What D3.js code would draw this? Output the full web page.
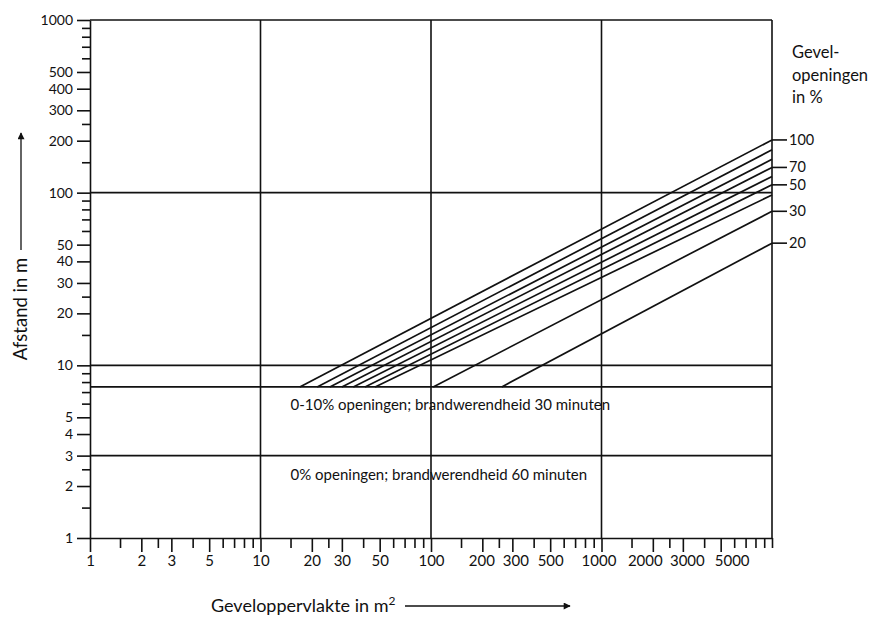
<!DOCTYPE html>
<html>
<head>
<meta charset="utf-8">
<script src="https://cdn.jsdelivr.net/npm/d3@7"></script>
<style>
  body { margin: 0; background: #fff; }
  text { font-family: Lato, "Open Sans", sans-serif; fill: #111; }
  .axis path, .axis line { stroke: #111; stroke-width: 1.6; }
  .axis text { font-size: 15px; }
  .yaxis text { font-size: 14px; }
</style>
</head>
<body>
<div id="chart"></div>
<script>
// chart data
const yMajor = [1, 2, 3, 4, 5, 10, 20, 30, 40, 50, 100, 200, 300, 400, 500, 1000];
const yMinor = [1.5, 2.5, 6, 7, 8, 9, 15, 25, 60, 70, 80, 90, 150, 250, 600, 700, 800, 900];
const xMajor = [1, 2, 3, 5, 10, 20, 30, 50, 100, 200, 300, 500, 1000, 2000, 3000, 5000];
const xMinor = [1.5, 2.5, 4, 6, 7, 8, 9, 15, 25, 40, 60, 70, 80, 90, 150, 250, 400, 600, 700, 800, 900,
  1500, 2500, 4000, 6000, 7000, 8000, 9000];
const xGrid = [10, 100, 1000];
const yGrid = [3, 7.5, 10, 100, 1000];

// one line per facade-opening percentage
const openings = [100, 90, 80, 70, 60, 50, 40, 30, 20];
const startArea = [17, 21.5, 25.5, 30, 35, 41, 47, 103, 260];
const endDistance = [202, 177, 156, 140, 124, 111, 97, 78, 51];
const floorDistance = 7.5;
const maxArea = 10000;
const labelled = [100, 70, 50, 30, 20];

// svg size
let width = 880;
let height = 619;

let svg = d3.select("#chart")
  .append("svg")
  .attr("width", width)
  .attr("height", height);

// scales
let x = d3.scaleLog().domain([1, maxArea]).range([90, 772]);
let y = d3.scaleLog().domain([1, 1000]).range([538, 20]);

let fmt = d => d3.format("d")(d);

// small nudges so the crowded x labels don't collide (as in the original)
let xLabelShift = {200: -1, 300: 3, 1000: -3, 2000: -8, 3000: 4, 5000: 11};

// y axis (major + minor ticks)
svg.append("g")
  .attr("class", "axis yaxis")
  .attr("transform", `translate(${x(1)},0)`)
  .call(d3.axisLeft(y).tickValues(yMajor).tickFormat(fmt).tickSize(13).tickSizeOuter(0).tickPadding(4));
svg.append("g")
  .attr("class", "axis")
  .attr("transform", `translate(${x(1)},0)`)
  .call(d3.axisLeft(y).tickValues(yMinor).tickFormat("").tickSize(8).tickSizeOuter(0))
  .select(".domain").remove();

// x axis (major + minor ticks)
svg.append("g")
  .attr("class", "axis")
  .attr("transform", `translate(0,${y(1)})`)
  .call(d3.axisBottom(x).tickValues(xMajor).tickFormat(fmt).tickSize(14).tickSizeOuter(0).tickPadding(3))
  .selectAll(".tick text")
  .attr("dx", d => xLabelShift[d] || 0);
svg.append("g")
  .attr("class", "axis")
  .attr("transform", `translate(0,${y(1)})`)
  .call(d3.axisBottom(x).tickValues(xMinor.concat([maxArea])).tickFormat("").tickSize(10).tickSizeOuter(0))
  .select(".domain").remove();

// grid
let grid = svg.append("g").attr("stroke", "#111").attr("stroke-width", 1.6);
grid.selectAll(".vgrid")
  .data(xGrid.concat([maxArea]))
  .enter()
  .append("line")
  .attr("x1", d => x(d)).attr("x2", d => x(d))
  .attr("y1", y(1000)).attr("y2", y(1));
grid.selectAll(".hgrid")
  .data(yGrid)
  .enter()
  .append("line")
  .attr("x1", x(1)).attr("x2", x(maxArea))
  .attr("y1", d => y(d)).attr("y2", d => y(d));

// opening lines
let lineData = openings.map((p, i) => ({
  p: p,
  pts: [[startArea[i], floorDistance], [maxArea, endDistance[i]]]
}));
let lineGen = d3.line().x(d => x(d[0])).y(d => y(d[1]));
svg.append("g")
  .selectAll("path")
  .data(lineData)
  .enter()
  .append("path")
  .attr("d", d => lineGen(d.pts))
  .attr("fill", "none")
  .attr("stroke", "#111")
  .attr("stroke-width", 1.7);

// right labels
let lab = lineData.filter(d => labelled.includes(d.p));
svg.append("g")
  .selectAll("line")
  .data(lab)
  .enter()
  .append("line")
  .attr("x1", x(maxArea)).attr("x2", x(maxArea) + 15)
  .attr("y1", d => y(d.pts[1][1])).attr("y2", d => y(d.pts[1][1]))
  .attr("stroke", "#111").attr("stroke-width", 1.6);
svg.append("g")
  .selectAll("text")
  .data(lab)
  .enter()
  .append("text")
  .attr("x", x(maxArea) + 17)
  .attr("y", d => y(d.pts[1][1]) + 5)
  .attr("font-size", 14.5)
  .text(d => d.p);

let head = svg.append("text").attr("x", 792).attr("y", 58).attr("font-size", 16.5);
["Gevel-", "openingen", "in %"].forEach((t, i) => {
  head.append("tspan").attr("x", 792).attr("dy", i ? 22.5 : 0).text(t);
});

// band texts
svg.append("text")
  .attr("x", x(15)).attr("y", y(7.5) + 23)
  .attr("font-size", 15)
  .text("0-10% openingen; brandwerendheid 30 minuten");
svg.append("text")
  .attr("x", x(15)).attr("y", y(3) + 24)
  .attr("font-size", 15)
  .text("0% openingen; brandwerendheid 60 minuten");

// arrows
let defs = svg.append("defs");
defs.append("marker")
  .attr("id", "arr")
  .attr("viewBox", "0 0 10 10")
  .attr("refX", 9).attr("refY", 5)
  .attr("markerWidth", 10).attr("markerHeight", 7)
  .attr("markerUnits", "userSpaceOnUse")
  .attr("orient", "auto")
  .append("path")
  .attr("d", "M0,0L10,5L0,10Z")
  .attr("fill", "#111");

// axis labels
svg.append("text")
  .attr("transform", "translate(27, 309) rotate(-90)")
  .attr("text-anchor", "middle")
  .attr("font-size", 18.5)
  .text("Afstand in m");
svg.append("line")
  .attr("x1", 21).attr("x2", 21).attr("y1", 250).attr("y2", 133)
  .attr("stroke", "#111").attr("stroke-width", 1.3)
  .attr("marker-end", "url(#arr)");

let xl = svg.append("text")
  .attr("x", 211).attr("y", 612)
  .attr("font-size", 18);
xl.append("tspan").text("Geveloppervlakte in m");
xl.append("tspan").attr("dy", -7).attr("font-size", 12).text("2");
svg.append("line")
  .attr("x1", 405).attr("x2", 570).attr("y1", 606).attr("y2", 606)
  .attr("stroke", "#111").attr("stroke-width", 1.3)
  .attr("marker-end", "url(#arr)");
</script>
</body>
</html>
